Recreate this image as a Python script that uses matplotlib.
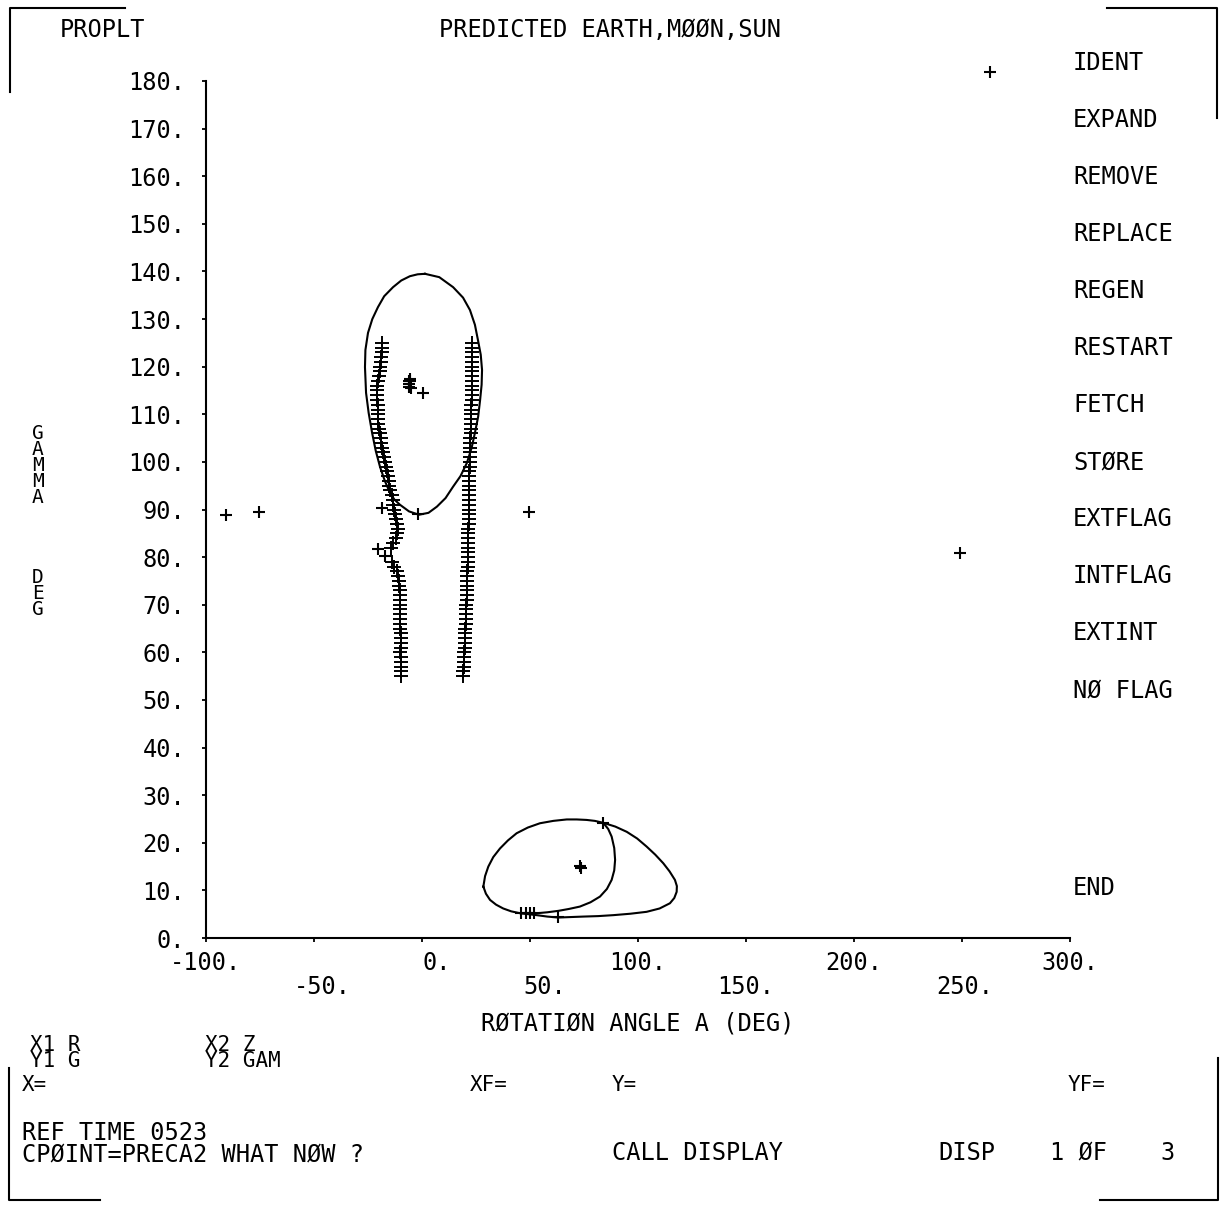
import matplotlib
matplotlib.use('Agg')
import matplotlib.pyplot as plt
from matplotlib.lines import Line2D
from matplotlib.transforms import ScaledTranslation

plt.rcParams['font.family'] = ['DejaVu Sans Mono', 'DejaVu Sans']

# ---------------- data ----------------
x_ticks = [-100, -50, 0, 50, 100, 150, 200, 250, 300]
x_tick_labels = ["-100.", "-50.", "0.", "50.", "100.", "150.", "200.", "250.", "300."]
y_ticks = [0, 10, 20, 30, 40, 50, 60, 70, 80, 90, 100, 110, 120, 130, 140, 150, 160, 170, 180]
y_tick_labels = ["0.", "10.", "20.", "30.", "40.", "50.", "60.", "70.", "80.", "90.",
                 "100.", "110.", "120.", "130.", "140.", "150.", "160.", "170.", "180."]

menu_items = ["IDENT", "EXPAND", "REMOVE", "REPLACE", "REGEN", "RESTART", "FETCH",
              "STØRE", "EXTFLAG", "INTFLAG", "EXTINT", "NØ FLAG", "END"]

# upper closed curve (egg shaped)
upper_x = [1.4, 8.0, 14.4, 19.0, 22.2, 24.5, 25.9, 27.2, 27.8, 27.6, 26.9, 26.0, 24.5, 23.0,
           20.8, 17.8, 14.4, 10.9, 6.9, 3.0, -1.4, -6.0, -10.2, -12.8, -14.8, -17.2, -19.4,
           -21.4, -23.1, -24.7, -25.9, -26.4, -26.2, -25.0, -23.0, -20.4, -17.5, -13.4, -9.6,
           -5.6, -2.0, 1.4]
upper_y = [139.5, 138.8, 136.7, 134.5, 131.9, 128.8, 125.6, 122.5, 119.3, 116.2, 113.0, 109.5,
           106.1, 103.0, 99.8, 97.0, 94.8, 92.4, 90.6, 89.3, 88.9, 89.6, 91.0, 92.1, 93.5,
           96.0, 98.9, 102.3, 106.1, 110.3, 114.5, 119.9, 123.5, 127.1, 130.0, 132.5, 134.8,
           136.7, 138.1, 139.0, 139.4, 139.5]

# lower closed curve
lower_x = [28.4, 29.2, 30.7, 33.0, 36.1, 39.8, 43.8, 49.0, 54.6, 60.8, 67.0, 71.6, 76.2, 80.0,
           83.9, 89.5, 94.8, 99.6, 104.0, 108.0, 111.7, 114.6, 117.1, 118.0, 117.9, 116.8,
           114.8, 110.0, 104.0, 96.5, 88.6, 81.6, 74.7, 68.9, 63.1, 58.0, 53.1, 45.4, 41.3,
           37.6, 34.3, 31.5, 29.6, 28.4]
lower_y = [10.8, 13.0, 15.0, 17.0, 18.8, 20.5, 22.0, 23.2, 24.1, 24.6, 24.9, 24.9, 24.8, 24.6,
           24.2, 23.4, 22.3, 20.9, 19.2, 17.5, 15.7, 14.0, 12.2, 10.9, 9.7, 8.4,
           7.3, 6.2, 5.5, 5.1, 4.8, 4.6, 4.5, 4.4, 4.3, 4.5, 4.8, 5.2, 5.6,
           6.2, 7.0, 8.0, 9.3, 10.8]

# inner arc of lower curve
inner_x = [83.9, 86.2, 87.8, 89.0, 89.4, 89.0, 87.8, 85.6, 82.4, 78.0, 73.1, 68.0, 63.1, 58.0,
           53.1, 46.2]
inner_y = [24.2, 22.9, 21.3, 18.9, 16.4, 14.2, 12.2, 10.3, 8.7, 7.5, 6.6, 6.1, 5.7, 5.4,
           5.2, 5.2]

# left column of predicted points
left_col_y = [125, 124, 123, 122, 121, 120, 119, 118, 117, 116, 115, 114, 113, 112, 111, 110,
              109, 108, 107, 106, 105, 104, 103, 102, 101, 100, 99, 98, 97, 96, 95, 94, 93,
              92, 91, 90, 89, 88, 87, 86, 85, 84, 83, 82, 79, 78, 77, 76, 75, 74, 73, 72,
              71, 70, 69, 68, 67, 66, 65, 64, 63, 62, 61, 60, 59, 58, 57, 56, 55]
left_col_x = [-18.5, -18.6, -18.7, -18.9, -19.1, -19.3, -19.6, -20.0, -20.4, -20.8, -20.9, -20.8,
              -20.7, -20.6, -20.5, -20.4, -20.3, -20.2, -19.9, -19.6, -19.2, -18.8, -18.3, -17.9,
              -17.5, -17.1, -16.7, -16.3, -15.9, -15.5, -15.1, -14.6, -14.1, -13.6, -13.2, -12.8,
              -12.4, -11.9, -11.4, -11.2, -11.5, -12.2, -13.3, -14.5, -14.0, -12.8, -11.8, -11.2,
              -10.8, -10.5, -10.3, -10.2, -10.1, -10.0, -10.1, -10.2, -10.2, -10.1, -10.0, -9.9,
              -9.9, -9.8, -9.9, -10.0, -9.9, -9.8, -9.7, -9.7, -9.8]

# right column of predicted points
right_col_y = [125, 124, 123, 122, 121, 120, 119, 118, 117, 116, 115, 114, 113, 112, 111, 110,
               109, 108, 107, 106, 105, 104, 103, 102, 101, 100, 99, 98, 97, 96, 95, 94, 93,
               92, 91, 90, 89, 88, 87, 86, 85, 84, 83, 82, 81, 80, 79, 78, 77, 76, 75, 74, 73,
               72, 71, 70, 69, 68, 67, 66, 65, 64, 63, 62, 61, 60, 59, 58, 57, 56, 55]
right_col_x = [23.0, 23.1, 23.2, 23.1, 23.0, 23.0, 23.1, 23.2, 23.3, 23.3, 23.2, 23.1, 23.0, 22.9,
               22.9, 22.8, 22.7, 22.6, 22.6, 22.5, 22.4, 22.3, 22.2, 22.1, 22.1, 22.0, 22.0, 21.9,
               21.9, 21.9, 21.8, 21.8, 21.8, 21.7, 21.7, 21.7, 21.6, 21.6, 21.6, 21.5, 21.5, 21.4,
               21.3, 21.3, 21.2, 21.2, 21.1, 21.1, 21.0, 21.0, 20.9, 20.9, 20.8, 20.8, 20.7, 20.6,
               20.5, 20.4, 20.3, 20.2, 20.1, 20.0, 19.9, 19.8, 19.7, 19.6, 19.5, 19.4, 19.3, 19.2,
               19.1]

# isolated points
pts_x = [-90.6, -75.3, -18.7, -20.5, -17.1, -1.7, 49.7, 0.3, 263.0, 249.1, 83.9, 63.0,
         -5.6, -5.9, -6.0, -5.8, -5.3, -5.4, 73.1, 73.5, 46.0, 48.0, 50.0, 52.0]
pts_y = [88.8, 89.4, 90.3, 81.7, 80.2, 89.0, 89.4, 114.4, 181.9, 80.9, 24.2, 4.4,
         117.4, 116.9, 116.3, 115.8, 115.5, 117.0, 15.2, 14.6, 5.3, 5.3, 5.2, 5.2]

# ---------------- figure ----------------
W, H = 1221, 1210
fig = plt.figure(figsize=(W / 100, H / 100), dpi=100)
ax = fig.add_axes([206 / W, 1 - 938 / H, (1070 - 206) / W, (938 - 81) / H])
ax.set_xlim(-100, 300)
ax.set_ylim(0, 180)

for s in ['top', 'right']:
    ax.spines[s].set_visible(False)
for s in ['left', 'bottom']:
    ax.spines[s].set_linewidth(1.5)

FS = 17
ax.set_xticks(x_ticks)
ax.set_xticklabels([lab if i % 2 == 0 else "\n" + lab for i, lab in enumerate(x_tick_labels)])
ax.set_yticks(y_ticks)
ax.set_yticklabels(y_tick_labels)
ax.tick_params(axis='x', direction='out', length=3, width=1.3, pad=6, labelsize=FS)
ax.tick_params(axis='y', direction='out', length=3, width=1.3, pad=12, labelsize=FS)
offsets = {"0.": 15, "\n-50.": 8, "\n50.": 15, "\n250.": 3}
for lab in ax.get_xticklabels():
    lab.set_linespacing(1.0)
    dx = offsets.get(lab.get_text(), 0)
    if dx:
        lab.set_transform(lab.get_transform() + ScaledTranslation(dx / 100, 0, fig.dpi_scale_trans))

ax.set_xlabel("RØTATIØN ANGLE A (DEG)", fontsize=FS)
ax.xaxis.label.set_va('center')
ax.xaxis.set_label_coords(0.5, (938 - 1024) / (938 - 81))

ax.set_ylabel("G\nA\nM\nM\nA\n\n\n\n\nD\nE\nG", rotation=0, fontsize=14, linespacing=0.8,
              va='top', ha='center')
ax.yaxis.set_label_coords((38 - 206) / (1070 - 206), (938 - 424) / (938 - 81))

LW = 1.5
ax.plot(upper_x, upper_y, color='black', lw=LW, clip_on=False)
ax.plot(lower_x, lower_y, color='black', lw=LW, clip_on=False)
ax.plot(inner_x, inner_y, color='black', lw=LW, clip_on=False)
ax.plot(left_col_x, left_col_y, linestyle='none', marker='+', ms=10, mew=1.4,
        color='black', clip_on=False)
ax.plot(right_col_x, right_col_y, linestyle='none', marker='+', ms=10, mew=1.4,
        color='black', clip_on=False)
ax.plot(pts_x, pts_y, linestyle='none', marker='+', ms=9, mew=1.5, color='black',
        clip_on=False)

# ---------------- peripheral text ----------------
def ftext(x, y, s, ha='left', size=FS, va='center', ls=1.2):
    fig.text(x / W, 1 - y / H, s, ha=ha, va=va, fontsize=size, linespacing=ls)

ftext(60, 30, "PROPLT")
ftext(610, 30, "PREDICTED EARTH,MØØN,SUN", ha='center')

menu_y = [63, 120, 177, 234, 291, 348, 405, 462, 519, 576, 633, 690, 888]
for yy, s in zip(menu_y, menu_items):
    ftext(1073, yy, s)

BS = 15
ftext(30, 1053, "X1 R\nY1 G", size=BS, ls=0.78)
ftext(205, 1053, "X2 Z\nY2 GAM", size=BS, ls=0.78)
ftext(22, 1085, "X=", size=BS)
ftext(470, 1085, "XF=", size=BS)
ftext(612, 1085, "Y=", size=BS)
ftext(1068, 1085, "YF=", size=BS)
ftext(22, 1144, "REF TIME 0523\nCPØINT=PRECA2 WHAT NØW ?", size=FS, ls=0.85)
ftext(612, 1153, "CALL DISPLAY")
ftext(938, 1153, "DISP")
ftext(1050, 1153, "1 ØF")
ftext(1160, 1153, "3")

# ---------------- screen frame corners ----------------
def seg(xs, ys):
    fig.add_artist(Line2D([x / W for x in xs], [1 - y / H for y in ys],
                          transform=fig.transFigure, color='black', lw=1.5))

seg([125, 10, 10], [8, 8, 92])
seg([1107, 1217, 1217], [8, 8, 118])
seg([9, 9, 100], [1068, 1200, 1200])
seg([1100, 1218, 1218], [1200, 1200, 1058])

fig.savefig("out.png", dpi=100, facecolor='white')
